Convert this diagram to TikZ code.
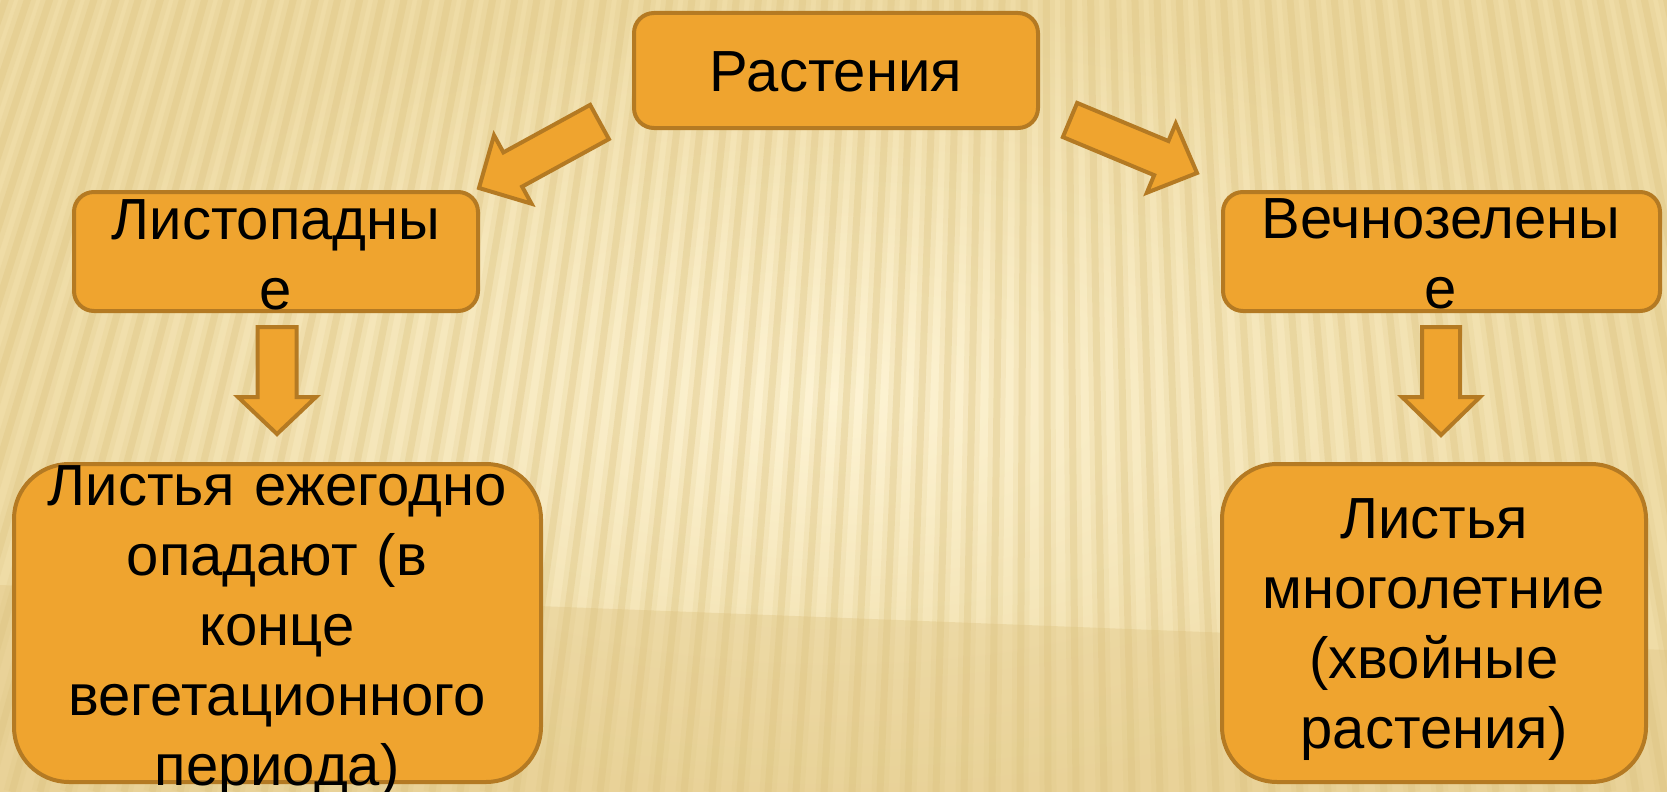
\documentclass[tikz,border=0pt]{standalone}
\usepackage{fontspec}
\setmainfont{Liberation Sans}
\usetikzlibrary{calc}
\definecolor{boxfill}{HTML}{EFA42F}
\definecolor{boxline}{HTML}{B47A23}
\definecolor{bglight}{HTML}{FDF3D3}
\definecolor{bgdark}{HTML}{EFDCA6}
\definecolor{stripecol}{HTML}{DCC27E}
\definecolor{bandcol}{HTML}{DEC27F}
\tikzset{
  box/.style={draw=boxline, fill=boxfill, line width=4pt, rounded corners=20pt, inner sep=0pt},
  bigbox/.style={box, rounded corners=55pt},
  txt/.style={anchor=base, text width=640pt, align=center, inner sep=0pt,
              font=\fontsize{58}{70}\selectfont, text=black},
  blockarrow/.style={draw=boxline, fill=boxfill, line width=4pt, line join=miter},
  softstripe/.style={draw=stripecol, line width=17pt, opacity=0.16},
  hardstripe/.style={draw=stripecol, line width=7pt, opacity=0.32},
}
% #1 tail, #2 tip, #3 half shaft width, #4 half head width, #5 head length
\newcommand\blockarr[5]{%
  \coordinate (bah) at ($(#2)!#5!(#1)$);
  \draw[blockarrow] ($(#1)!#3!90:(#2)$) -- ($(bah)!#3!90:(#2)$) -- ($(bah)!#4!90:(#2)$)
     -- (#2) -- ($(bah)!#4!-90:(#2)$) -- ($(bah)!#3!-90:(#2)$) -- ($(#1)!#3!-90:(#2)$) -- cycle;
}
\begin{document}
\begin{tikzpicture}[x=1pt,y=-1pt]
\useasboundingbox (0,0) rectangle (1667,792);
% background
\shade[inner color=bglight, outer color=bgdark] (0,0) rectangle (1667,792);
\begin{scope}
  \clip (0,0) rectangle (1667,792);
  \fill[bandcol, opacity=0.35] (0,585) -- (1667,650) -- (1667,792) -- (0,792) -- cycle;
  \foreach \x in {-800,-772,...,2400} {
    \draw[softstripe] (1040,-3000) -- (\x,792);
    \draw[hardstripe] (1040,-3000) -- (\x,792);
  }
\end{scope}

% boxes
\node[box, minimum width=404pt, minimum height=115pt] (top) at (836,70.5) {};
\node[box, minimum width=404pt, minimum height=119pt] (midL) at (276,251.5) {};
\node[box, minimum width=437pt, minimum height=119pt] (midR) at (1441.5,251.5) {};
\node[bigbox, minimum width=527pt, minimum height=318pt] (botL) at (277.5,623) {};
\node[bigbox, minimum width=424pt, minimum height=318pt] (botR) at (1434,623) {};

% texts
\node[txt] (topT) at (836,91) {Растения};
\node[txt] (midLT) at (276,239) {Листопадны\\е};
\node[txt] (midRT) at (1441,238) {Вечнозелены\\е};
\node[txt] (botLT) at (277,505) {Листья ежегодно\\опадают (в\\конце\\вегетационного\\периода)};
\node[txt] (botRT) at (1434,538) {Листья\\многолетние\\(хвойные\\растения)};

% arrow end points
\coordinate (aLt) at (599.5,122);
\coordinate (aLp) at (479,188);
\coordinate (aRt) at (1070,120);
\coordinate (aRp) at (1197,173);
\coordinate (dLt) at (277,327);
\coordinate (dLp) at (277,434);
\coordinate (dRt) at (1441,327);
\coordinate (dRp) at (1441,435);

\blockarr{aLt}{aLp}{19.5pt}{39pt}{38.5pt}
\blockarr{aRt}{aRp}{18.5pt}{37.5pt}{38.7pt}
\blockarr{dLt}{dLp}{19.5pt}{39pt}{37pt}
\blockarr{dRt}{dRp}{19pt}{39pt}{38pt}
\end{tikzpicture}
\end{document}
